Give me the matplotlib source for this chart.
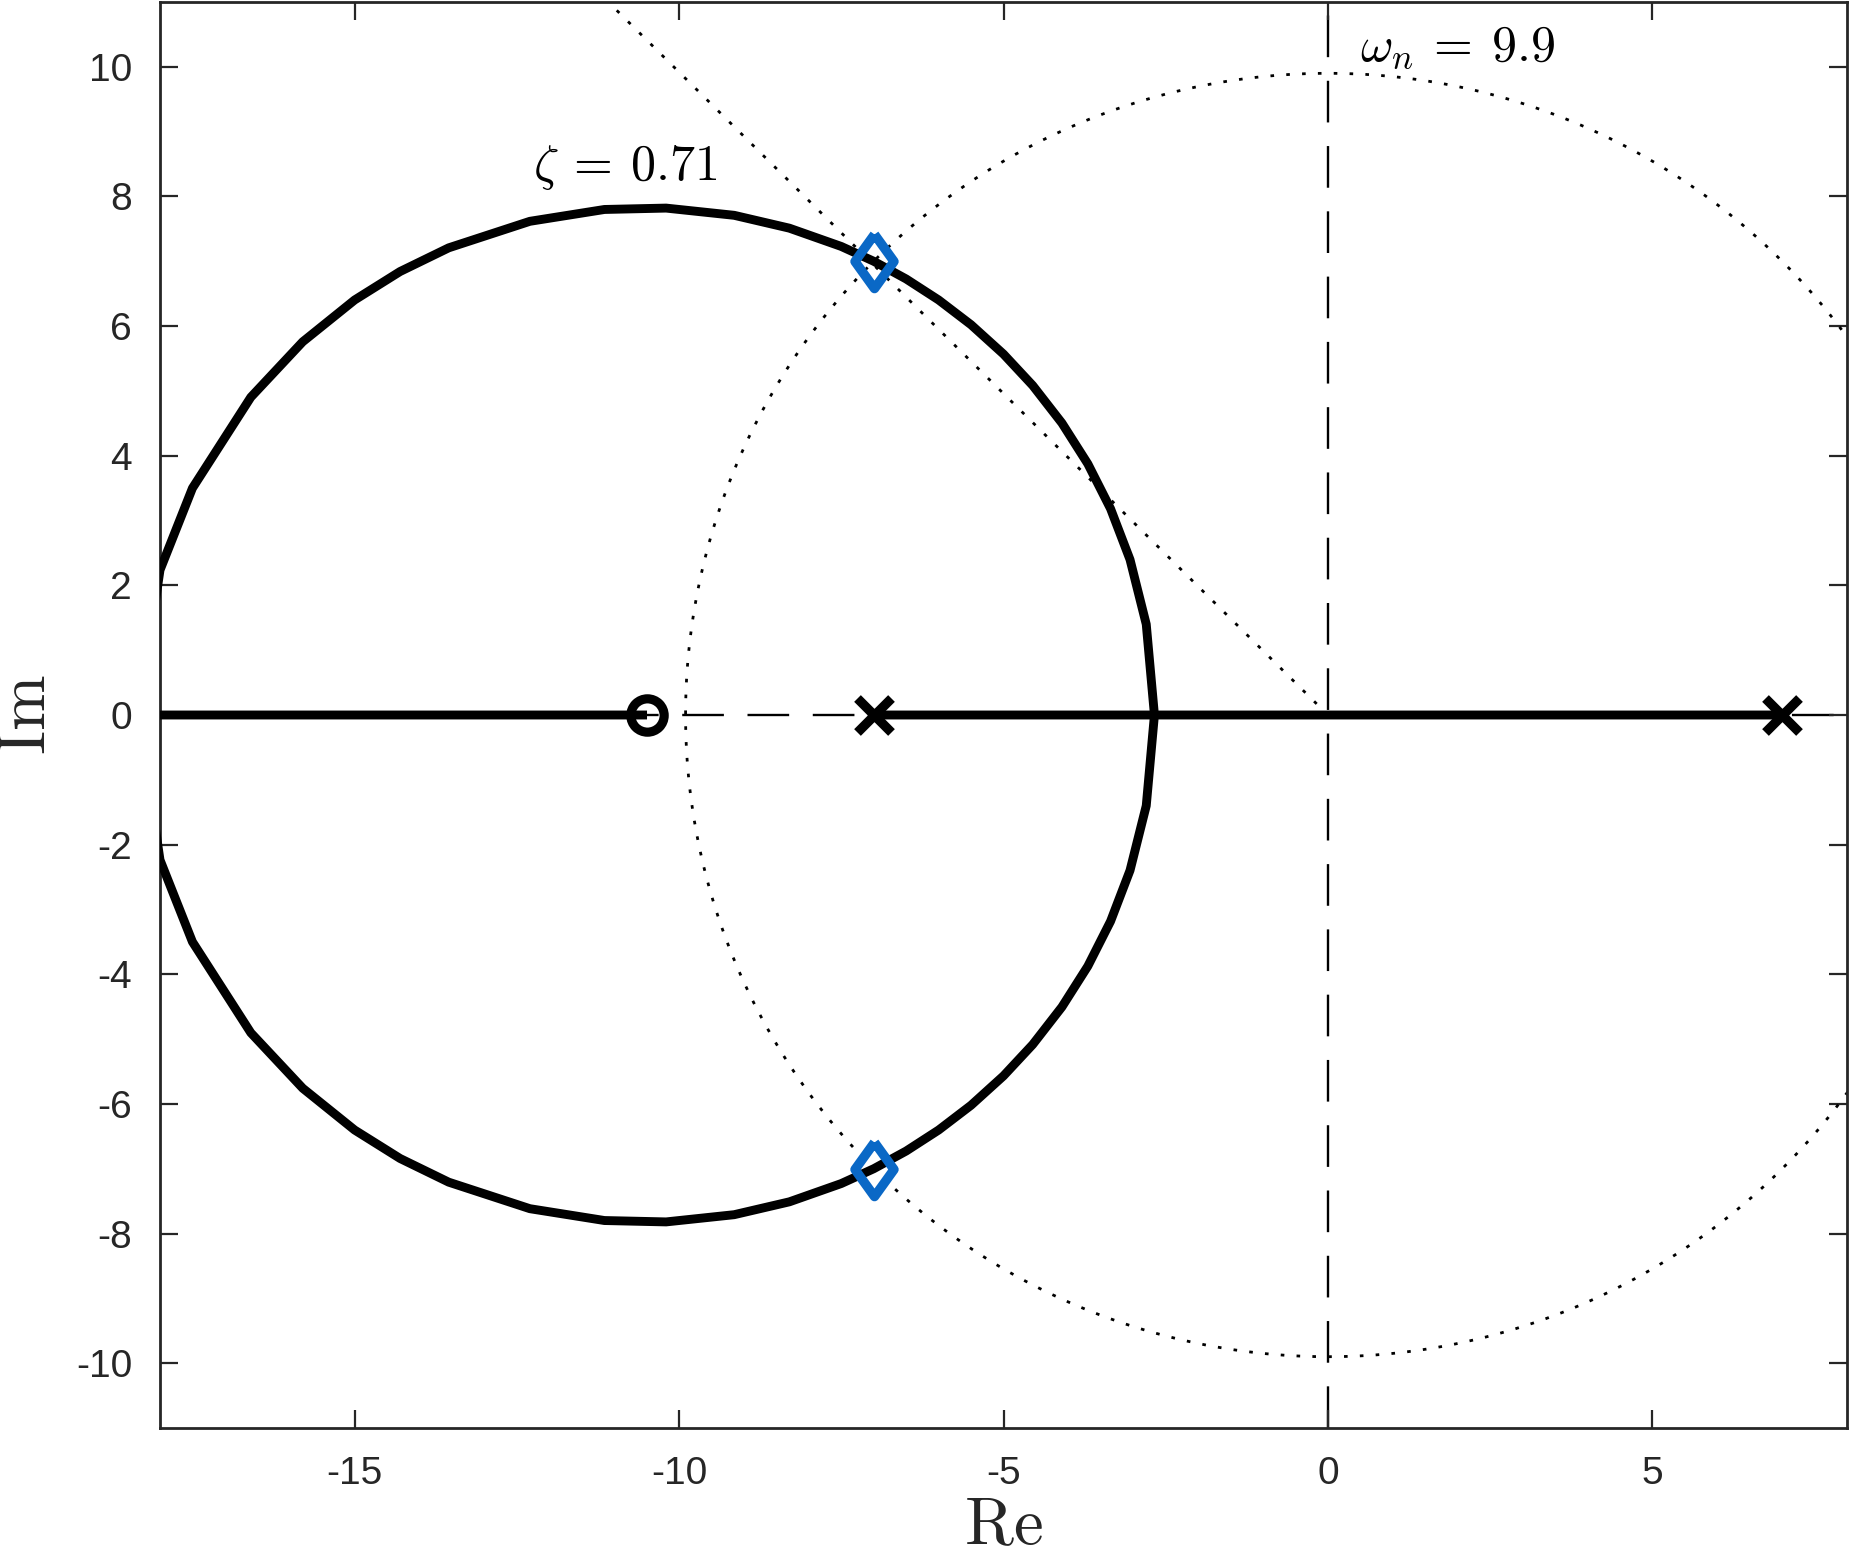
import numpy as np
import matplotlib
matplotlib.use("Agg")
import matplotlib.pyplot as plt

# ---- data ----
poles = [-7.0, 7.0]
zeros = [-10.5]
# gains at which the locus was evaluated (read from visible polyline vertices)
gains = [0, 2.0, 4.0, 5.6, 6.1, 6.7, 7.4, 8.2, 9.1, 10.0, 11.0, 12.0,
         13.0, 14.0, 15.0, 16.6, 18.3, 20.4, 22.3, 24.6, 27.1, 28.6, 30.0,
         31.6, 33.2, 35.0, 36.0, 40.0, 60.0, 100.0, 1000.0]
design_points_re = [-7.0, -7.0]
design_points_im = [7.0, -7.0]
zeta = 0.71
wn = 9.9
xticks = [-15, -10, -5, 0, 5]
yticks = [-10, -8, -6, -4, -2, 0, 2, 4, 6, 8, 10]

plt.rcParams['mathtext.fontset'] = 'cm'
plt.rcParams['axes.unicode_minus'] = False
plt.rcParams['font.family'] = ['Liberation Sans', 'DejaVu Sans']
plt.rcParams['lines.scale_dashes'] = False

W, H, DPI = 1850, 1558, 200
fig = plt.figure(figsize=(W / DPI, H / DPI), dpi=DPI)
ax = fig.add_axes([160 / W, 1 - 1428 / H, (1847 - 160) / W, (1428 - 2) / H])

xlim = (-18, 8)
ylim = (-11, 11)
gray = '#262626'

# reference axes (dashed)
ax.plot(xlim, [0, 0], color='k', lw=0.85, ls=(0, (15, 8.5)), zorder=1)
ax.plot([0, 0], ylim, color='k', lw=0.85, ls=(0, (15, 8.5)), zorder=1)

# damping ratio line and natural frequency circle (dotted)
r = 30.0
ax.plot([0, -r * zeta], [0, r * np.sqrt(1 - zeta ** 2)], color='k', lw=1.0,
        ls=(0, (1.3, 4.4)), zorder=2)
th = np.linspace(0, 2 * np.pi, 400)
ax.plot(wn * np.cos(th), wn * np.sin(th), color='k', lw=1.0,
        ls=(0, (1.3, 4.4)), zorder=2)

# root locus of (s - z)/((s - p1)(s - p2)):  s^2 + c1 s + c0 = 0
a = -zeros[0]
p1, p2 = poles
# breakaway / break-in gains (double roots)
A2, B2, C2 = 1.0, -2 * (p1 + p2) - 4 * a, (p1 + p2) ** 2 - 4 * p1 * p2
kb = np.sort(np.roots([A2, B2, C2]).real)
K = np.sort(np.concatenate([np.array(gains, float), kb]))
c1 = -(p1 + p2) + K
c0 = p1 * p2 + K * a
d = c1 ** 2 - 4 * c0
d[np.isin(K, kb)] = 0.0
sq = np.where(d >= 0, np.sqrt(np.clip(d, 0, None)) + 0j, 1j * np.sqrt(np.clip(-d, 0, None)))
brA = (-c1 + sq) / 2
brB = (-c1 - sq) / 2
for br in (brA, brB):
    ax.plot(br.real, br.imag, color='k', lw=3.2, zorder=3)

# poles and zeros
ax.plot(poles, [0] * len(poles), ls='none', marker='x', ms=12, mew=3.4, color='k', zorder=4)
ax.plot(zeros, [0] * len(zeros), ls='none', marker='o', ms=12, mew=3.3,
        mfc='none', mec='k', zorder=4)

# design points
diamond = [(0, 1), (0.72, 0), (0, -1), (-0.72, 0), (0, 1)]
ax.plot(design_points_re, design_points_im, ls='none', marker=diamond, ms=19.5, mew=3.4,
        mfc='none', mec='#0a68c6', zorder=5)

ax.text(-12.25, 8.45, r'$\zeta\:=\:0.71$', fontsize=18, ha='left', va='center', color='k')
ax.text(0.5, 10.3, r'$\omega_n\:=\:9.9$', fontsize=18, ha='left', va='center', color='k')

ax.set_xlim(*xlim)
ax.set_ylim(*ylim)
ax.set_xticks(xticks)
ax.set_yticks(yticks)
ax.set_xticklabels([str(v) for v in xticks])
ax.set_yticklabels([str(v) for v in yticks])
ax.tick_params(direction='in', length=6.5, width=0.8, colors=gray, labelsize=14,
               top=True, right=True, pad=10)
for s in ax.spines.values():
    s.set_color(gray)
    s.set_linewidth(1.0)

ax.set_xlabel(r'$\mathrm{Re}$', fontsize=24, labelpad=1.5, color=gray)
ax.set_ylabel(r'$\mathrm{Im}$', fontsize=24, labelpad=6, color=gray)

fig.savefig('out.png', dpi=DPI)
